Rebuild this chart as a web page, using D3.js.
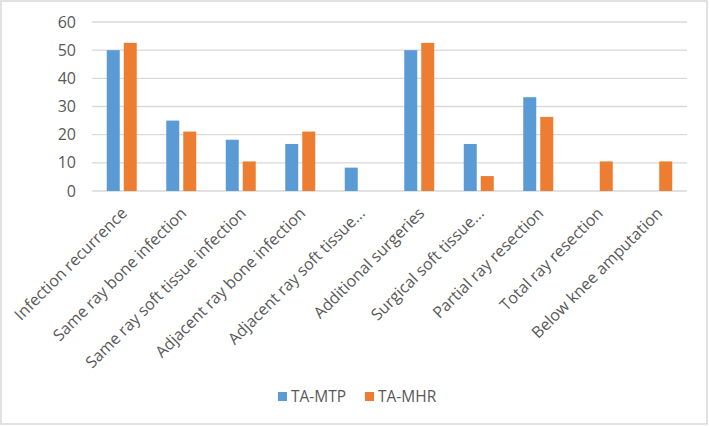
<!DOCTYPE html>
<html>
<head>
<meta charset="utf-8">
<script src="https://cdn.jsdelivr.net/npm/d3@7"></script>
<style>
  body { margin: 0; background: #fff; }
  svg { display: block; }
  svg text { font-family: "Open Sans", "Noto Sans", sans-serif; fill: #595959; }
</style>
</head>
<body>
<svg id="chart"></svg>
<script>
// categories and values (percent)
const categories = [
  "Infection recurrence",
  "Same ray bone infection",
  "Same ray soft tissue infection",
  "Adjacent ray bone infection",
  "Adjacent ray soft tissue...",
  "Additional surgeries",
  "Surgical soft tissue...",
  "Partial ray resection",
  "Total ray resection",
  "Below knee amputation"
];
const mtpValues = [50, 25, 18.2, 16.7, 8.3, 50, 16.7, 33.3, 0, 0];
const mhrValues = [52.6, 21.1, 10.5, 21.1, 0, 52.6, 5.3, 26.3, 10.5, 10.5];
const seriesNames = ["TA-MTP", "TA-MHR"];
const seriesColors = ["#5B9BD5", "#ED7D31"];
const yTicks = [0, 10, 20, 30, 40, 50, 60];

const W = 709, H = 426;
const margin = {top: 22, right: 22, bottom: 235, left: 92};
const width = W - margin.left - margin.right;
const height = H - margin.top - margin.bottom;

const svg = d3.select("#chart").attr("width", W).attr("height", H);

// outer border
svg.append("rect")
  .attr("x", 1).attr("y", 1)
  .attr("width", W - 3).attr("height", H - 3)
  .attr("fill", "#fff")
  .attr("stroke", "#d9d9d9")
  .attr("stroke-width", 1.5);

const chart = svg.append("g")
  .attr("transform", `translate(${margin.left},${margin.top})`);

const x = d3.scaleBand().domain(categories).range([0, width]);
const y = d3.scaleLinear().domain([0, 60]).range([height, 0]);
const barW = 13, gap = 4;

// gridlines
chart.append("g")
  .selectAll("line")
  .data(yTicks)
  .join("line")
    .attr("x1", 0).attr("x2", width)
    .attr("y1", d => y(d)).attr("y2", d => y(d))
    .attr("stroke", "#d9d9d9")
    .attr("stroke-width", 1.3);

// y axis labels
const yAxis = d3.axisLeft(y).tickValues(yTicks).tickSize(0).tickPadding(16);
chart.append("g")
  .attr("class", "axis")
  .call(yAxis)
  .call(g => g.select(".domain").remove())
  .selectAll("text")
    .style("font-size", "16px");

// bars
const data = categories.map((c, i) => ({cat: c, vals: [mtpValues[i], mhrValues[i]]}));
const groups = chart.append("g").selectAll("g")
  .data(data)
  .join("g")
    .attr("transform", d => `translate(${x(d.cat) + x.bandwidth() / 2},0)`);

groups.selectAll("rect")
  .data(d => d.vals.map((v, j) => ({name: seriesNames[j], v: v, j: j})))
  .join("rect")
    .attr("x", d => d.j === 0 ? -(barW + gap / 2) : gap / 2)
    .attr("y", d => y(d.v))
    .attr("width", barW)
    .attr("height", d => y(0) - y(d.v))
    .attr("fill", d => seriesColors[d.j]);

// x axis labels, rotated
const xAxis = d3.axisBottom(x).tickSize(0).tickPadding(0);
chart.append("g")
  .attr("class", "axis")
  .attr("transform", `translate(0,${height})`)
  .call(xAxis)
  .call(g => g.select(".domain").remove())
  .selectAll("text")
    .style("font-size", "16px")
    .attr("text-anchor", "end")
    .attr("dy", "0.55em")
    .attr("y", 0)
    .attr("transform", "translate(0,17) rotate(-45)");

// legend
const legend = svg.append("g").attr("transform", "translate(278,397)");
const legendX = [0, 87];
seriesNames.forEach((s, i) => {
  const lg = legend.append("g").attr("transform", `translate(${legendX[i]},0)`);
  lg.append("rect").attr("x", 0).attr("y", -5).attr("width", 9).attr("height", 9).attr("fill", seriesColors[i]);
  lg.append("text").attr("x", 13).attr("y", 0).attr("dy", "0.35em")
    .style("font-size", "15.5px").text(s);
});
</script>
</body>
</html>
